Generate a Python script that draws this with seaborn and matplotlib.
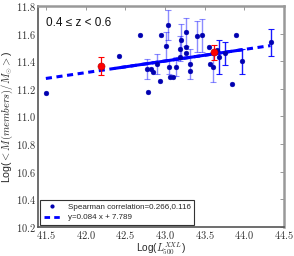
import numpy as np
import pandas as pd
import matplotlib
matplotlib.use("Agg")
import matplotlib.pyplot as plt
import seaborn as sns
from matplotlib.ticker import FuncFormatter
from matplotlib.lines import Line2D

# cluster points
lum = [41.50, 42.42, 42.69, 42.78, 42.82, 42.79, 42.85, 42.90, 42.94, 42.95,
       43.01, 43.04, 43.05, 43.06, 43.10, 43.14, 43.19, 43.20, 43.19, 43.26,
       43.26, 43.26, 43.31, 43.31, 43.41, 43.47, 43.55, 43.57, 43.61, 43.65,
       43.68, 43.76, 43.84, 43.89, 43.97, 44.33]
mass = [11.17, 11.436, 11.586, 11.343, 11.343, 11.18, 11.32, 11.38, 11.26, 11.586,
        11.51, 11.66, 11.36, 11.285, 11.285, 11.36, 11.49, 11.55, 11.43, 11.61,
        11.50, 11.46, 11.38, 11.33, 11.58, 11.586, 11.50, 11.38, 11.357, 11.48,
        11.43, 11.457, 11.236, 11.586, 11.40, 11.536]
mass_err = [0, 0, 0, 0.07, 0, 0, 0, 0.07, 0, 0,
            0.10, 0.11, 0.05, 0, 0, 0.07, 0.09, 0.12, 0, 0.10,
            0, 0, 0.11, 0, 0.11, 0.12, 0, 0, 0.11, 0,
            0.12, 0.085, 0, 0, 0.09, 0.10]
strong_err = [False] * 29 + [False, True, True, False, False, True, True]

# binned means (red)
bin_lum = [42.19, 43.62]
bin_mass = [11.364, 11.464]
bin_err = [0.064, 0.055]

slope = 0.084
intercept = 7.789
fit_lo, fit_hi = 41.50, 44.33
solid_lo, solid_hi = 42.37, 43.97

df = pd.DataFrame({"lum": lum, "mass": mass, "err": mass_err, "strong": strong_err})

sns.set_style("white")
plt.rcParams["mathtext.fontset"] = "cm"
plt.rcParams["font.family"] = ["Liberation Sans", "DejaVu Sans"]

fig = plt.figure(figsize=(2.94, 2.56), dpi=100)
ax = fig.add_axes([0.129, 0.113, 0.837, 0.864])

# error bars
for strong, sub in df[df["err"] > 0].groupby("strong"):
    ax.errorbar(sub["lum"], sub["mass"], yerr=sub["err"], fmt="none",
                ecolor="blue", alpha=0.9 if strong else 0.45,
                elinewidth=1.0, capsize=2, capthick=0.8, zorder=2)

# fit line: dashed full range, solid in the data core
xx = np.array([fit_lo, fit_hi])
ax.plot(xx, slope * xx + intercept, color="blue", lw=2.2, ls=(0, (2, 1.5)), zorder=3)
xs = np.array([solid_lo, solid_hi])
ax.plot(xs, slope * xs + intercept, color="blue", lw=2.2, zorder=3)

sns.scatterplot(data=df, x="lum", y="mass", color="#0000b0", s=12,
                edgecolor="#0000b0", linewidth=0.3, ax=ax, zorder=4, legend=False)

ax.errorbar(bin_lum, bin_mass, yerr=bin_err, fmt="none", ecolor="red",
            elinewidth=0.9, capsize=2, capthick=0.8, zorder=5)
sns.scatterplot(x=bin_lum, y=bin_mass, color="red", s=26, edgecolor="#b00000",
                linewidth=0.4, ax=ax, zorder=6, legend=False)

ax.set_xlim(41.4, 44.5)
ax.set_ylim(10.2, 11.8)
ax.set_xticks([41.5, 42.0, 42.5, 43.0, 43.5, 44.0, 44.5])
ax.set_yticks([10.2, 10.4, 10.6, 10.8, 11.0, 11.2, 11.4, 11.6, 11.8])
fmt = FuncFormatter(lambda v, p: r"$%.1f$" % v)
ax.xaxis.set_major_formatter(fmt)
ax.yaxis.set_major_formatter(fmt)
ax.tick_params(direction="in", length=3, width=0.6, colors="#888888",
               labelcolor="#333333", labelsize=7.5, top=True, right=True, pad=1.5)

for side in ["left", "bottom"]:
    ax.spines[side].set_color("#555555")
    ax.spines[side].set_linewidth(1.2)
for side in ["top", "right"]:
    ax.spines[side].set_color("#999999")
    ax.spines[side].set_linewidth(1.8)

ax.set_xlabel(r"Log($L_{500}^{XXL}$)", fontsize=7.2)
ax.set_ylabel(r"Log($< M(members)/M_{\odot} >$)", fontsize=7.6)
ax.xaxis.set_label_coords(0.5, -0.062)
ax.yaxis.set_label_coords(-0.094, 0.5)

ax.text(41.5, 11.655, "0.4 \u2264 z < 0.6", fontsize=8.5, color="#111111")

handles = [
    Line2D([], [], marker="o", ls="none", color="#0000b0", markersize=2),
    Line2D([], [], color="blue", lw=2, ls=(0, (2, 1.5))),
]
labels = ["Spearman correlation=0.266,0.116", "y=0.084 x + 7.789"]
leg = ax.legend(handles, labels, loc="lower left", fontsize=5.8, frameon=True,
                fancybox=False, edgecolor="#333333", framealpha=1,
                borderaxespad=0.3, handlelength=2.2, borderpad=0.4,
                labelspacing=0.4)
leg.get_frame().set_linewidth(0.8)

fig.savefig("out.png", dpi=100)
